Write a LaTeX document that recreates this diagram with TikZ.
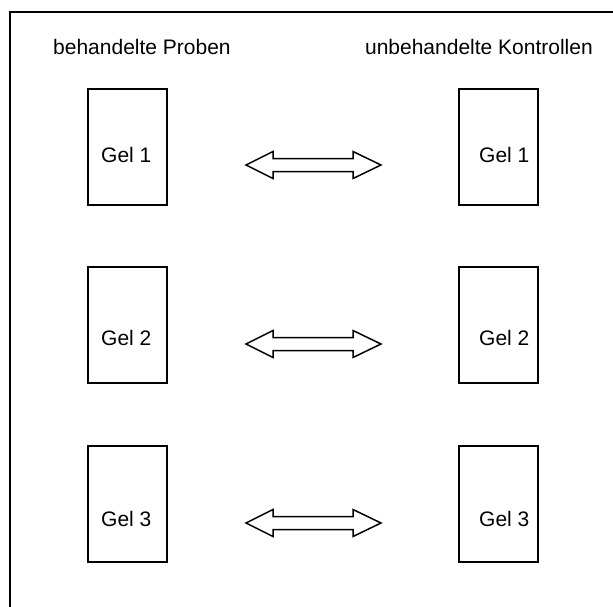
\documentclass[tikz,border=0pt]{standalone}
\usepackage{fontspec}
\setmainfont{Liberation Sans}
\begin{document}
\begin{tikzpicture}[x=1pt,y=-1pt,
  frameline/.style={line width=2pt},
  gelbox/.style={draw,line width=1.4pt,minimum width=79pt,minimum height=116pt,inner sep=0pt},
  geltext/.style={inner sep=0pt,font=\fontsize{21}{25}\selectfont},
  headtext/.style={inner sep=0pt,font=\fontsize{21}{25}\selectfont},
  dblarrow/.style={draw,line width=1.5pt,line join=miter,fill=white}]
\useasboundingbox (0,0) rectangle (613,606);
\clip (0,0) rectangle (613,606);
% outer frame (right and bottom edges lie outside the picture)
\draw[frameline] (10,620) -- (10,12) -- (630,12);
% headings
\node[headtext,anchor=base west] (hl) at (53,54) {behandelte Proben};
\node[headtext,anchor=base east] (hr) at (593,54) {unbehandelte Kontrollen};
% gel boxes
\foreach \i/\yc/\yb/\ya in {1/147/162/165, 2/325/345/344, 3/504/526/523}{
  \node[gelbox] (L\i) at (127.5,\yc) {};
  \node[gelbox] (R\i) at (498.5,\yc) {};
  \node[geltext,anchor=base west] (tL\i) at (101,\yb) {Gel \i};
  \node[geltext,anchor=base west] (tR\i) at (479,\yb) {Gel \i};
  \coordinate (a\i) at (313.5,\ya);
  \draw[dblarrow] ([xshift=-67.5pt]a\i) -- ([xshift=-40.5pt,yshift=13.5pt]a\i)
     -- ([xshift=-40.5pt,yshift=6.5pt]a\i) -- ([xshift=39.5pt,yshift=6.5pt]a\i)
     -- ([xshift=39.5pt,yshift=13.5pt]a\i) -- ([xshift=67.5pt]a\i)
     -- ([xshift=39.5pt,yshift=-13.5pt]a\i) -- ([xshift=39.5pt,yshift=-6.5pt]a\i)
     -- ([xshift=-40.5pt,yshift=-6.5pt]a\i) -- ([xshift=-40.5pt,yshift=-13.5pt]a\i)
     -- cycle;
}
\end{tikzpicture}
\end{document}
